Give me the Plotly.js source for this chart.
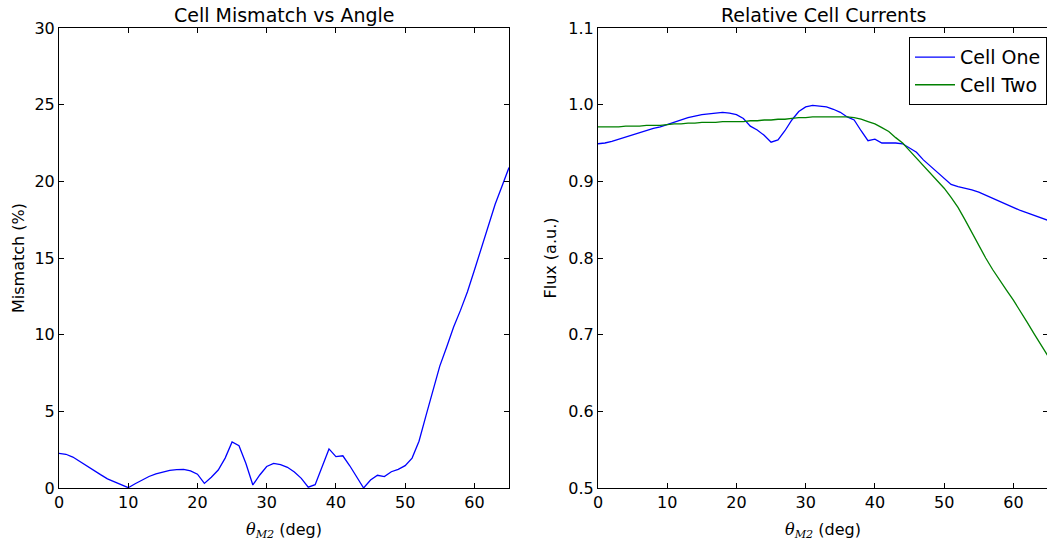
<!DOCTYPE html>
<html>
<head>
<meta charset="utf-8">
<script src="https://cdn.plot.ly/plotly-3.0.1.min.js"></script>
<style>
  html, body { margin: 0; padding: 0; overflow: hidden; background: #fff; }
  #chart { width: 1049px; height: 541px; }
</style>
</head>
<body>
<div id="chart"></div>
<script>
// Mirror angle θ_M2 in degrees
const angles = [
  0, 1, 2, 3, 4, 5, 6, 7, 8, 9,
  10, 11, 12, 13, 14, 15, 16, 17, 18, 19,
  20, 21, 22, 23, 24, 25, 26, 27, 28, 29,
  30, 31, 32, 33, 34, 35, 36, 37, 38, 39,
  40, 41, 42, 43, 44, 45, 46, 47, 48, 49,
  50, 51, 52, 53, 54, 55, 56, 57, 58, 59,
  60, 61, 62, 63, 64, 65
];

// Current mismatch between the two cells (%)
const mismatch = [
  2.26, 2.20, 2.02, 1.72, 1.45, 1.15, 0.87, 0.60, 0.40, 0.20,
  0.02, 0.28, 0.54, 0.75, 0.92, 1.05, 1.15, 1.20, 1.22, 1.12,
  0.90, 0.30, 0.70, 1.17, 1.95, 3.00, 2.76, 1.60, 0.20, 0.85,
  1.40, 1.60, 1.52, 1.35, 1.05, 0.63, 0.05, 0.22, 1.45, 2.55,
  2.05, 2.10, 1.45, 0.75, 0.00, 0.52, 0.83, 0.74, 1.06, 1.22,
  1.46, 1.95, 3.05, 4.70, 6.40, 7.95, 9.20, 10.5, 11.6, 12.8,
  14.2, 15.6, 17.0, 18.5, 19.7, 20.9
];

// Relative flux reaching each cell (a.u.)
const cellOne = [
  0.949, 0.950, 0.952, 0.955, 0.958, 0.961, 0.964, 0.967, 0.969, 0.971,
  0.974, 0.978, 0.980, 0.983, 0.985, 0.987, 0.988, 0.989, 0.990, 0.989,
  0.987, 0.982, 0.972, 0.967, 0.960, 0.951, 0.954, 0.966, 0.980, 0.991,
  0.997, 0.999, 0.998, 0.997, 0.994, 0.990, 0.984, 0.980, 0.966, 0.953,
  0.955, 0.950, 0.950, 0.950, 0.949, 0.944, 0.938, 0.928, 0.920, 0.912,
  0.904, 0.896, 0.893, 0.891, 0.889, 0.886, 0.882, 0.878, 0.873, 0.869,
  0.865, 0.862, 0.859, 0.856, 0.853, 0.849
];

const cellTwo = [
  0.971, 0.971, 0.971, 0.971, 0.972, 0.972, 0.972, 0.973, 0.973, 0.973,
  0.974, 0.975, 0.975, 0.976, 0.976, 0.977, 0.977, 0.977, 0.978, 0.978,
  0.978, 0.978, 0.979, 0.979, 0.980, 0.980, 0.981, 0.981, 0.982, 0.983,
  0.983, 0.984, 0.984, 0.984, 0.984, 0.984, 0.984, 0.983, 0.981, 0.978,
  0.975, 0.970, 0.965, 0.957, 0.950, 0.940, 0.930, 0.921, 0.910, 0.901,
  0.891, 0.879, 0.866, 0.850, 0.833, 0.817, 0.800, 0.785, 0.771, 0.758,
  0.745, 0.731, 0.716, 0.701, 0.687, 0.672
];

const xTicks = [0, 10, 20, 30, 40, 50, 60];
const mismatchTicks = [0, 5, 10, 15, 20, 25, 30];
const fluxTicks = [0.5, 0.6, 0.7, 0.8, 0.9, 1.0, 1.1];

const FONT = 'DejaVu Sans, sans-serif';
const W = 1049;
const px = v => v / W;

const thetaLabel =
  '<span style="font-family:DejaVu Serif, serif"><i>θ</i><sub><i>M2</i></sub></span> (deg)';

function baseAxis(extra) {
  return Object.assign({
    showgrid: false,
    zeroline: false,
    showline: true,
    linecolor: '#000',
    linewidth: 1,
    mirror: 'ticks',
    ticks: 'inside',
    ticklen: 5,
    tickwidth: 1,
    tickcolor: '#000',
    tickfont: { family: FONT, size: 16, color: '#000' },
    fixedrange: true
  }, extra);
}

const traces = [
  {
    x: angles, y: mismatch, type: 'scatter', mode: 'lines',
    line: { color: '#0000ff', width: 1.3 },
    xaxis: 'x', yaxis: 'y', showlegend: false
  },
  {
    x: angles, y: cellOne, type: 'scatter', mode: 'lines', name: 'Cell One',
    line: { color: '#0000ff', width: 1.3 },
    xaxis: 'x2', yaxis: 'y2'
  },
  {
    x: angles, y: cellTwo, type: 'scatter', mode: 'lines', name: 'Cell Two',
    line: { color: '#008000', width: 1.3 },
    xaxis: 'x2', yaxis: 'y2'
  }
];

const layout = {
  width: W,
  height: 541,
  margin: { l: 0, r: 0, t: 28, b: 53 },
  paper_bgcolor: '#fff',
  plot_bgcolor: '#fff',
  font: { family: FONT, color: '#000' },
  xaxis: baseAxis({
    domain: [px(59), px(509)], range: [0, 65], anchor: 'y',
    tickvals: xTicks,
    title: { text: thetaLabel, font: { family: FONT, size: 16 } }
  }),
  yaxis: baseAxis({
    domain: [0, 1], range: [0, 30], anchor: 'x',
    tickvals: mismatchTicks,
    automargin: true,
    title: { text: 'Mismatch (%)', standoff: 5, font: { family: FONT, size: 16 } }
  }),
  xaxis2: baseAxis({
    domain: [px(598), px(1048)], range: [0, 65], anchor: 'y2',
    tickvals: xTicks,
    title: { text: thetaLabel, font: { family: FONT, size: 16 } }
  }),
  yaxis2: baseAxis({
    domain: [0, 1], range: [0.5, 1.1], anchor: 'x2',
    tickvals: fluxTicks, tickformat: '.1f',
    automargin: true,
    title: { text: 'Flux (a.u.)', standoff: 7, font: { family: FONT, size: 16 } }
  }),
  legend: {
    x: px(1047), xanchor: 'right',
    y: 0.98, yanchor: 'top',
    bgcolor: '#fff',
    bordercolor: '#000',
    borderwidth: 1,
    itemwidth: 40,
    font: { family: FONT, size: 19, color: '#000' }
  },
  annotations: [
    {
      text: 'Cell Mismatch vs Angle', xref: 'paper', yref: 'paper',
      x: px(284), y: 1, xanchor: 'center', yanchor: 'bottom', yshift: 0,
      showarrow: false, font: { family: FONT, size: 19, color: '#000' }
    },
    {
      text: 'Relative Cell Currents', xref: 'paper', yref: 'paper',
      x: px(823), y: 1, xanchor: 'center', yanchor: 'bottom', yshift: 0,
      showarrow: false, font: { family: FONT, size: 19, color: '#000' }
    }
  ]
};

Plotly.newPlot('chart', traces, layout, { displayModeBar: false, staticPlot: true });
</script>
</body>
</html>
